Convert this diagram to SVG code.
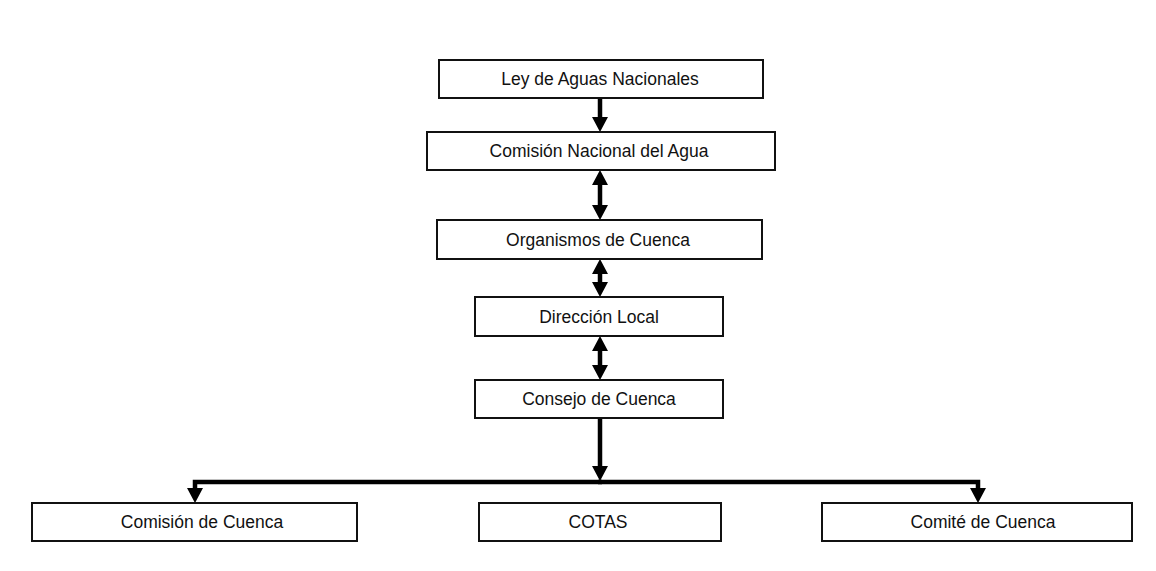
<svg xmlns="http://www.w3.org/2000/svg" width="1156" height="571" viewBox="0 0 1156 571">
<style>
.box{fill:#fff;stroke:#111;stroke-width:2}
.lbl{font-family:"Liberation Sans",Arial,sans-serif;font-size:17.5px;fill:#111;text-anchor:middle}
.con{fill:none;stroke:#000;stroke-width:4.5}
</style>
<defs>
<marker id="ah" viewBox="0 0 15 16" refX="2" refY="8" markerWidth="15" markerHeight="16" markerUnits="userSpaceOnUse" orient="auto-start-reverse">
<path d="M0,0 L15,8 L0,16 z" fill="#000"/>
</marker>
</defs>
<rect width="1156" height="571" fill="#fff"/>
<g id="connectors">
<path class="con" d="M600,98 V119" marker-end="url(#ah)"/>
<path class="con" d="M600,183 V207" marker-start="url(#ah)" marker-end="url(#ah)"/>
<path class="con" d="M600,272 V284" marker-start="url(#ah)" marker-end="url(#ah)"/>
<path class="con" d="M600,349 V367" marker-start="url(#ah)" marker-end="url(#ah)"/>
<path class="con" d="M600,418 V468" marker-end="url(#ah)"/>
<path class="con" d="M602,482 H195 V490" marker-end="url(#ah)"/>
<path class="con" d="M598,482 H978 V490" marker-end="url(#ah)"/>
</g>
<g id="n1"><rect class="box" x="439" y="60" width="324" height="38"/><text class="lbl" x="600" y="85">Ley de Aguas Nacionales</text></g>
<g id="n2"><rect class="box" x="427" y="132" width="348" height="38"/><text class="lbl" x="599" y="157">Comisión Nacional del Agua</text></g>
<g id="n3"><rect class="box" x="437" y="220" width="325" height="39"/><text class="lbl" x="598" y="246">Organismos de Cuenca</text></g>
<g id="n4"><rect class="box" x="475" y="297" width="248" height="39"/><text class="lbl" x="599" y="323">Dirección Local</text></g>
<g id="n5"><rect class="box" x="475" y="380" width="248" height="38"/><text class="lbl" x="599" y="405">Consejo de Cuenca</text></g>
<g id="n6"><rect class="box" x="32" y="503" width="325" height="38"/><text class="lbl" x="202" y="528">Comisión de Cuenca</text></g>
<g id="n7"><rect class="box" x="479" y="503" width="242" height="38"/><text class="lbl" x="598" y="528">COTAS</text></g>
<g id="n8"><rect class="box" x="822" y="503" width="310" height="38"/><text class="lbl" x="983" y="528">Comité de Cuenca</text></g>
</svg>
